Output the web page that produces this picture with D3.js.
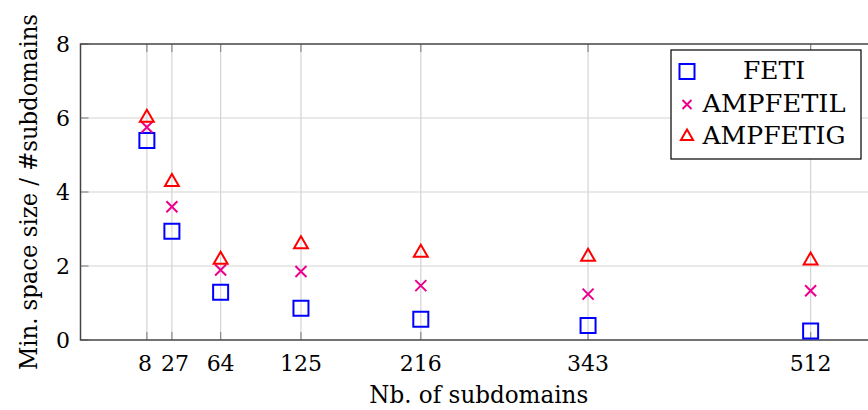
<!DOCTYPE html>
<html>
<head>
<meta charset="utf-8">
<script src="https://cdn.jsdelivr.net/npm/d3@7"></script>
<style>
  html, body { margin: 0; padding: 0; background: #fff; }
  svg { display: block; }
  svg text { font-family: "DejaVu Serif", "Liberation Serif", serif !important; }
</style>
</head>
<body>
<svg id="chart" width="868" height="410"></svg>
<script>
// ---- data ----
const subdomains = [8, 27, 64, 125, 216, 343, 512];
const feti      = [5.39, 2.94, 1.29, 0.86, 0.56, 0.39, 0.24];
const ampfetil  = [5.75, 3.60, 1.89, 1.85, 1.47, 1.24, 1.33];
const ampfetig  = [6.01, 4.27, 2.17, 2.59, 2.36, 2.25, 2.15];
const xTicks = [8, 27, 64, 125, 216, 343, 512];
const yTicks = [0, 2, 4, 6, 8];
const seriesNames = ["FETI", "AMPFETIL", "AMPFETIG"];
const seriesColors = ["#0000ff", "#ec008c", "#ff0000"];
const seriesValues = [feti, ampfetil, ampfetig];

// ---- layout ----
const svg = d3.select("#chart");
const pL = 80.5, pR = 877, pT = 44, pB = 340;
const x = d3.scaleLinear().domain([-42.4, 562.4]).range([pL, pR]);
const y = d3.scaleLinear().domain([0, 8]).range([pB, pT]);
const FS = 24, TFS = 22;

// custom marker shapes
const squareSym = { draw(ctx, size) { const h = Math.sqrt(size) / 2; ctx.rect(-h, -h, 2*h, 2*h); } };
const crossSym = { draw(ctx, size) { const h = Math.sqrt(size) / 2;
  ctx.moveTo(-h, -h); ctx.lineTo(h, h); ctx.moveTo(-h, h); ctx.lineTo(h, -h); } };
const triSym = { draw(ctx, size) { const r = Math.sqrt(size) / 2; // circumradius
  ctx.moveTo(0, -r);
  ctx.lineTo(r * Math.cos(Math.PI/6), r/2);
  ctx.lineTo(-r * Math.cos(Math.PI/6), r/2);
  ctx.closePath(); } };
const symbols = [
  d3.symbol().type(squareSym).size(15*15),
  d3.symbol().type(crossSym).size(11*11),
  d3.symbol().type(triSym).size(16*16)
];

// ---- grid ----
const grid = svg.append("g").attr("stroke", "#d3d3d3").attr("stroke-width", 1.2);
grid.selectAll("line.v").data(xTicks).join("line")
  .attr("x1", d => x(d)).attr("x2", d => x(d)).attr("y1", pT).attr("y2", pB);
grid.selectAll("line.h").data(yTicks.filter(d => d > 0 && d < 8)).join("line")
  .attr("x1", pL).attr("x2", pR).attr("y1", d => y(d)).attr("y2", d => y(d));

// ---- ticks (inside) ----
const tk = svg.append("g").attr("stroke", "#8a8a8a").attr("stroke-width", 1.2);
tk.selectAll("line.b").data(xTicks).join("line")
  .attr("x1", d => x(d)).attr("x2", d => x(d)).attr("y1", pB).attr("y2", pB - 8);
tk.selectAll("line.t").data(xTicks).join("line")
  .attr("x1", d => x(d)).attr("x2", d => x(d)).attr("y1", pT).attr("y2", pT + 8);
tk.selectAll("line.l").data(yTicks).join("line")
  .attr("x1", pL).attr("x2", pL + 8).attr("y1", d => y(d)).attr("y2", d => y(d));

// ---- frame ----
svg.append("path")
  .attr("d", `M${pR},${pT}H${pL}V${pB}H${pR}`)
  .attr("fill", "none").attr("stroke", "#444").attr("stroke-width", 1.5);

// ---- tick labels ----
svg.append("g").selectAll("text").data(xTicks).join("text")
  .attr("x", d => x(d) + (d === 8 ? -2 : d === 27 ? 3 : 0)).attr("y", 371)
  .attr("text-anchor", "middle").attr("font-size", TFS)
  .text(d => d);
svg.append("g").selectAll("text").data(yTicks).join("text")
  .attr("x", 70).attr("y", d => y(d)).attr("dy", "0.36em")
  .attr("text-anchor", "end").attr("font-size", TFS)
  .text(d => d);

// ---- axis titles ----
svg.append("text").attr("x", (pL + pR) / 2).attr("y", 403)
  .attr("text-anchor", "middle").attr("font-size", FS)
  .attr("textLength", 219).attr("lengthAdjust", "spacingAndGlyphs")
  .text("Nb.  of subdomains");
svg.append("text").attr("transform", `translate(37,${(pT + pB) / 2}) rotate(-90)`)
  .attr("text-anchor", "middle").attr("font-size", FS)
  .attr("textLength", 356).attr("lengthAdjust", "spacingAndGlyphs")
  .text("Min.  space size / #subdomains");

// ---- marks ----
seriesValues.forEach((vals, i) => {
  svg.append("g").selectAll("path").data(subdomains.map((s, j) => [s, vals[j]])).join("path")
    .attr("transform", d => `translate(${x(d[0])},${y(d[1])})`)
    .attr("d", symbols[i]())
    .attr("fill", "none").attr("stroke", seriesColors[i]).attr("stroke-width", 2);
});

// ---- legend ----
const lg = svg.append("g");
lg.append("rect").attr("x", 671).attr("y", 50).attr("width", 190).attr("height", 109)
  .attr("fill", "#fff").attr("stroke", "#000").attr("stroke-width", 1.2);
const legendRows = [71.5, 104.5, 136.5];
const legendBase = [79, 112, 144];
seriesNames.forEach((name, i) => {
  lg.append("path").attr("transform", `translate(687,${legendRows[i]})`)
    .attr("d", (i === 1 ? d3.symbol().type(crossSym).size(9*9) : i === 2 ? d3.symbol().type(triSym).size(14*14) : symbols[i])())
    .attr("fill", "none").attr("stroke", seriesColors[i]).attr("stroke-width", 2);
  lg.append("text").attr("x", 774).attr("y", legendBase[i])
    .attr("text-anchor", "middle").attr("font-size", FS)
    .attr("textLength", name === "FETI" ? 62 : 143).attr("lengthAdjust", "spacingAndGlyphs")
    .text(name);
});
</script>
</body>
</html>
